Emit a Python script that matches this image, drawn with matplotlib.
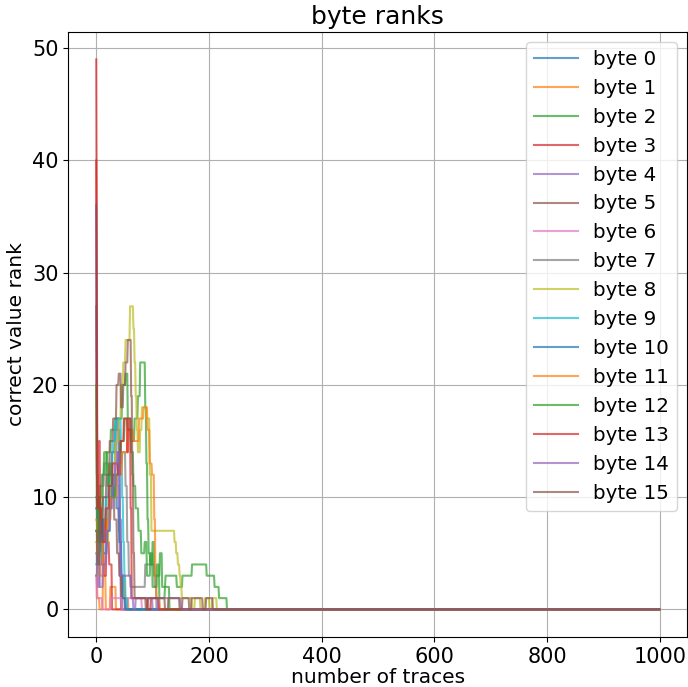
import numpy as np
import matplotlib
matplotlib.use("Agg")
import matplotlib.pyplot as plt

N_TRACES = 1000

# rank of the correct key byte, stored as (rank, number of traces) runs;
# after the last run the rank stays at 0
byte_0 = [(9, 2), (5, 3), (7, 4), (4, 3), (8, 5), (10, 5), (12, 6), (14, 5),
          (16, 4), (17, 3), (13, 2), (8, 2), (3, 2)]
byte_1 = [(3, 2), (1, 4), (0, 6), (3, 5), (0, 8), (2, 10), (0, 10), (3, 6),
          (1, 6)]
byte_2 = [(7, 3), (10, 5), (8, 4), (12, 6), (14, 8), (16, 8), (17, 12),
          (20, 6), (21, 4), (17, 6), (15, 6), (17, 6), (19, 4), (22, 9),
          (18, 2), (13, 2), (8, 2), (5, 3), (4, 4), (6, 3), (3, 10), (5, 4),
          (2, 6), (3, 20), (2, 10), (3, 17), (4, 26), (3, 14), (2, 8), (1, 14)]
byte_3 = [(49, 1), (30, 1), (9, 2), (7, 3), (9, 3), (5, 4), (3, 4), (6, 5),
          (4, 5)]
byte_4 = [(5, 2), (2, 4), (4, 6), (6, 6), (8, 6), (10, 5), (12, 5), (14, 4),
          (11, 2), (7, 2), (3, 2)]
byte_5 = [(27, 1), (12, 2), (8, 4), (5, 4), (8, 5), (6, 5), (9, 6), (11, 5),
          (8, 5), (5, 4), (3, 4), (1, 6)]
byte_6 = [(3, 1), (1, 10), (0, 15), (1, 20), (0, 10), (1, 25), (0, 10),
          (1, 20)]
byte_7 = [(10, 2), (8, 4), (11, 8), (13, 8), (12, 6), (14, 8), (16, 6),
          (13, 4), (14, 6), (11, 3), (6, 3), (3, 3), (2, 26), (4, 17), (2, 3)]
byte_8 = [(6, 2), (3, 4), (5, 6), (8, 6), (6, 4), (10, 6), (13, 6), (15, 6),
          (17, 4), (20, 4), (22, 4), (24, 8), (27, 6), (25, 2), (22, 2),
          (19, 2), (16, 2), (14, 4), (16, 3), (18, 8), (17, 6), (12, 3),
          (7, 41), (6, 3), (5, 3), (4, 3), (3, 2), (2, 2), (1, 18), (0, 5),
          (1, 10), (0, 8), (1, 8), (0, 5), (1, 8)]
byte_9 = [(4, 2), (6, 4), (5, 6), (8, 6), (10, 6), (12, 5), (15, 5), (17, 10),
          (14, 2), (10, 2), (6, 2), (3, 2), (1, 3)]
byte_10 = [(36, 1), (20, 1), (10, 2), (6, 4), (8, 5), (5, 6), (7, 6), (10, 6),
           (12, 5), (9, 5), (6, 4), (3, 3), (1, 4)]
byte_11 = [(8, 2), (5, 4), (3, 6), (6, 6), (8, 8), (10, 10), (12, 10),
           (14, 10), (16, 10), (15, 10), (17, 8), (18, 7), (16, 4), (13, 4),
           (12, 4), (8, 2), (3, 2), (1, 6)]
byte_12 = [(20, 1), (9, 2), (6, 3), (10, 4), (12, 4), (14, 6), (11, 4),
           (13, 4), (10, 6), (12, 6), (14, 4), (15, 6), (17, 6), (16, 6),
           (14, 4), (11, 4), (9, 5), (7, 5), (5, 6), (6, 4), (3, 6), (5, 4),
           (2, 8), (4, 4), (1, 10), (2, 8)]
byte_13 = [(40, 1), (15, 1), (9, 3), (15, 2), (8, 4), (6, 6), (9, 6), (11, 6),
           (13, 10), (12, 4), (15, 6), (17, 6), (14, 2), (17, 4), (9, 2),
           (1, 28), (0, 6), (1, 14)]
byte_14 = [(3, 2), (5, 4), (2, 6), (4, 6), (7, 6), (9, 5), (11, 5), (13, 4),
           (14, 4), (8, 2), (3, 18), (1, 4), (0, 4), (1, 30), (0, 10), (1, 40)]
byte_15 = [(7, 2), (4, 4), (8, 6), (10, 6), (12, 6), (15, 6), (17, 6), (20, 4),
           (21, 4), (18, 4), (20, 4), (22, 4), (24, 6), (19, 2), (12, 2),
           (5, 2), (1, 20), (0, 4), (1, 30), (0, 6), (1, 20), (0, 5), (1, 12),
           (0, 4), (1, 20), (0, 6), (1, 12)]

byte_runs = [byte_0, byte_1, byte_2, byte_3, byte_4, byte_5, byte_6, byte_7,
             byte_8, byte_9, byte_10, byte_11, byte_12, byte_13, byte_14,
             byte_15]


def expand(runs, n=N_TRACES):
    ranks, counts = zip(*runs)
    r = np.repeat(ranks, counts)
    out = np.zeros(n)
    out[:len(r)] = r
    return out


fig = plt.figure(figsize=(6.88, 6.87), dpi=100)
ax = fig.add_axes([0.099, 0.073, 0.9, 0.8805])

traces = np.arange(N_TRACES)
for i, runs in enumerate(byte_runs):
    ax.plot(traces, expand(runs), label=f"byte {i}", alpha=0.7, lw=1.5)

ax.set_title("byte ranks", fontsize=18)
ax.set_xlabel("number of traces", fontsize=14.5, labelpad=1)
ax.set_ylabel("correct value rank", fontsize=14.5, labelpad=4)
ax.tick_params(labelsize=15)
ax.grid(True)
ax.legend(loc="upper right", fontsize=14.3, handlelength=2.2)

fig.savefig("out.png", dpi=100)
